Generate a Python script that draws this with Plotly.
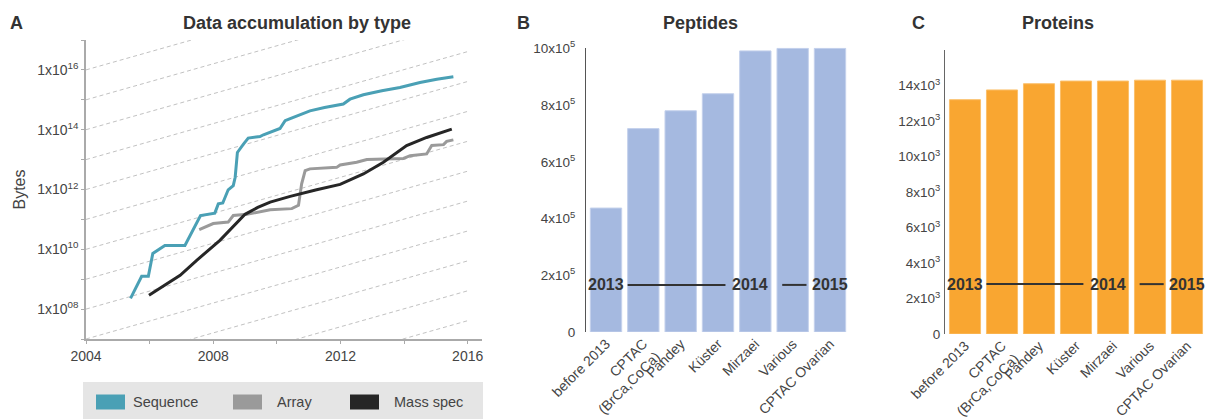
import numpy as np
import plotly.graph_objects as go

W, H = 1207, 419
FONT = "Liberation Sans, Arial, Helvetica, sans-serif"
TXT = "#444444"
DARK = "#333333"

# ---------------- Panel A data (log10 of bytes) ----------------
seq_year = [2005.40, 2005.75, 2005.96, 2006.10, 2006.48, 2007.11, 2007.60, 2008.05,
            2008.16, 2008.30, 2008.47, 2008.63, 2008.69, 2008.76, 2008.95, 2009.10,
            2009.47, 2009.58, 2010.10, 2010.26, 2010.42, 2011.04, 2011.50, 2012.09,
            2012.30, 2012.72, 2013.30, 2013.87, 2014.50, 2015.03, 2015.55]
seq_log10 = [8.36, 9.10, 9.10, 9.86, 10.13, 10.13, 11.13, 11.21,
             11.52, 11.55, 11.99, 12.13, 12.41, 13.24, 13.52, 13.72,
             13.77, 13.83, 14.04, 14.30, 14.37, 14.63, 14.74, 14.86,
             15.02, 15.17, 15.30, 15.41, 15.58, 15.69, 15.77]

arr_year = [2007.56, 2008.00, 2008.47, 2008.63, 2009.06, 2009.79, 2010.47, 2010.68,
            2010.78, 2010.89, 2011.04, 2011.88, 2011.99, 2012.51, 2012.83, 2013.98,
            2014.19, 2014.71, 2014.87, 2015.24, 2015.34, 2015.55]
arr_log10 = [10.66, 10.86, 10.91, 11.13, 11.17, 11.32, 11.36, 11.47,
             12.19, 12.63, 12.69, 12.74, 12.82, 12.91, 13.00, 13.04,
             13.13, 13.19, 13.47, 13.50, 13.61, 13.66]

ms_year = [2005.98, 2006.96, 2007.48, 2008.21, 2009.00, 2009.40, 2009.79, 2010.42,
           2011.25, 2011.99, 2012.72, 2013.35, 2014.08, 2014.71, 2015.50]
ms_log10 = [8.46, 9.13, 9.63, 10.30, 11.17, 11.40, 11.58, 11.77,
            11.99, 12.17, 12.52, 12.91, 13.47, 13.74, 14.02]

series_names = ["Sequence", "Array", "Mass spec"]
series_colors = ["#4aa0b5", "#9a9a9a", "#262626"]

# reference guide lines: doubling every year, one per decade offset
guide_start_exp = list(range(4, 17))
guide_years = [2004, 2016]

a_ylabel_exp = [8, 10, 12, 14, 16]
a_yminor_exp = list(range(7, 18))
a_xlabel_years = [2004, 2008, 2012, 2016]
a_xminor_years = list(range(2004, 2017, 2))

# ---------------- Panels B / C data ----------------
studies = ["before 2013", "CPTAC<br>(BrCa,CoCa)", "Pandey", "Küster",
           "Mirzaei", "Various", "CPTAC Ovarian"]
peptides = [437000, 717000, 780000, 840000, 991000, 1000000, 1000000]
proteins = [13200, 13750, 14100, 14250, 14250, 14300, 14300]

pep_ticks = [0, 200000, 400000, 600000, 800000, 1000000]
pep_ticktext = ["0", "2x10<sup>5</sup>", "4x10<sup>5</sup>", "6x10<sup>5</sup>",
                "8x10<sup>5</sup>", "10x10<sup>5</sup>"]
prot_ticks = [0, 2000, 4000, 6000, 8000, 10000, 12000, 14000]
prot_ticktext = ["0", "2x10<sup>3</sup>", "4x10<sup>3</sup>", "6x10<sup>3</sup>",
                 "8x10<sup>3</sup>", "10x10<sup>3</sup>", "12x10<sup>3</sup>",
                 "14x10<sup>3</sup>"]

year_labels = ["2013", "2014", "2015"]
year_label_pos = [0.0, 3.86, 6.0]
year_spans = [(0.58, 3.2), (4.72, 5.37)]


def px(x):
    return x / W


def py(y):
    return 1 - y / H


fig = go.Figure()

# guide lines
for k in guide_start_exp:
    fig.add_trace(go.Scatter(
        x=guide_years,
        y=[10.0 ** k * 2.0 ** (yr - guide_years[0]) for yr in guide_years],
        mode="lines", line=dict(color="#c2c2c2", width=1, dash="4px,3px"),
        hoverinfo="skip", showlegend=False, xaxis="x", yaxis="y"))

# data series
for name, xs, ls, col in zip(series_names,
                             [seq_year, arr_year, ms_year],
                             [seq_log10, arr_log10, ms_log10],
                             series_colors):
    fig.add_trace(go.Scatter(
        x=xs, y=np.power(10.0, ls), mode="lines", name=name,
        line=dict(color=col, width=3), showlegend=False,
        xaxis="x", yaxis="y"))

fig.add_trace(go.Bar(x=studies, y=peptides,
                     marker=dict(color="#a5b9e0", line=dict(width=1, color="#c4d1ec")),
                     showlegend=False, xaxis="x2", yaxis="y2"))
fig.add_trace(go.Bar(x=studies, y=proteins,
                     marker=dict(color="#f9a631", line=dict(width=1, color="#fbc06c")),
                     showlegend=False, xaxis="x3", yaxis="y3"))

axis_font = dict(family=FONT, size=14, color=TXT)
bar_font = dict(family=FONT, size=13.5, color=TXT)
bar_xfont = dict(family=FONT, size=14, color=TXT)

layout = dict(
    template="none",
    width=W, height=H, margin=dict(l=0, r=0, t=0, b=0, pad=0),
    paper_bgcolor="white", plot_bgcolor="white",
    font=dict(family=FONT, color=TXT),
    bargap=0.16, showlegend=False,
    xaxis=dict(domain=[px(86), px(482)], range=[2004, 2016.45], automargin=False,
               tickvals=a_xlabel_years, ticktext=[str(y) for y in a_xlabel_years],
               ticks="outside", ticklen=3, tickcolor="#aaaaaa",
               minor=dict(tickvals=a_xminor_years, ticks="outside", ticklen=3,
                          tickcolor="#aaaaaa", showgrid=False),
               showline=True, linecolor="#aaaaaa", linewidth=1.5,
               showgrid=False, zeroline=False, tickfont=axis_font, anchor="y"),
    yaxis=dict(domain=[py(339), py(40)], type="log", range=[7, 17], automargin=False,
               tickvals=[10.0 ** e for e in a_ylabel_exp],
               ticktext=["1x10<sup>%02d</sup>" % e for e in a_ylabel_exp],
               ticks="outside", ticklen=3, tickcolor="#aaaaaa",
               minor=dict(tickvals=[10.0 ** e for e in a_yminor_exp], ticks="outside",
                          ticklen=3, tickcolor="#aaaaaa", showgrid=False),
               showline=True, linecolor="#aaaaaa", linewidth=1.5,
               showgrid=False, zeroline=False, tickfont=axis_font, anchor="x",
               title=dict(text="Bytes", font=dict(family=FONT, size=16, color=TXT),
                          standoff=8)),
    xaxis2=dict(domain=[px(586), px(850)], anchor="y2", tickangle=-45, automargin=False,
                showline=False, showgrid=False, zeroline=False, ticks="",
                tickfont=bar_xfont),
    yaxis2=dict(domain=[py(332), py(47.5)], anchor="x2", range=[0, 1003000], automargin=False,
                tickvals=pep_ticks, ticktext=pep_ticktext,
                showline=True, linecolor="#555555", linewidth=1,
                showgrid=False, zeroline=False, ticks="", ticklabelstandoff=7,
                tickfont=bar_font),
    xaxis3=dict(domain=[px(945), 1.0], anchor="y3", tickangle=-45, automargin=False,
                showline=False, showgrid=False, zeroline=False, ticks="",
                tickfont=bar_xfont),
    yaxis3=dict(domain=[py(334), py(50)], anchor="x3", range=[0, 16000], automargin=False,
                tickvals=prot_ticks, ticktext=prot_ticktext,
                showline=True, linecolor="#666666", linewidth=1,
                showgrid=False, zeroline=False, ticks="", ticklabelstandoff=1,
                tickfont=bar_font),
)

annotations = []
shapes = []

# panel letters and titles
for letter, lx in [("A", 16), ("B", 523), ("C", 918)]:
    annotations.append(dict(text="<b>%s</b>" % letter, x=px(lx), y=py(23), xref="paper", yref="paper",
                            showarrow=False, xanchor="center", yanchor="middle",
                            font=dict(family=FONT, size=18, color=DARK)))
for title, tx in [("Data accumulation by type", 297), ("Peptides", 700), ("Proteins", 1058)]:
    annotations.append(dict(text="<b>%s</b>" % title, x=px(tx), y=py(23), xref="paper", yref="paper",
                            showarrow=False, xanchor="center", yanchor="middle",
                            font=dict(family=FONT, size=18, color=DARK)))

# year group markers on bar panels
for xa, ya, yval in [("x2", "y2", 166000), ("x3", "y3", 2810)]:
    for lab, pos in zip(year_labels, year_label_pos):
        annotations.append(dict(text="<b>%s</b>" % lab, x=pos, y=yval, xref=xa, yref=ya,
                                showarrow=False, xanchor="center", yanchor="middle",
                                font=dict(family=FONT, size=16, color=DARK)))
    for a, b in year_spans:
        shapes.append(dict(type="line", xref=xa, yref=ya, x0=a, x1=b, y0=yval, y1=yval,
                           line=dict(color=DARK, width=2)))

# legend box for panel A
shapes.append(dict(type="rect", xref="paper", yref="paper", x0=px(83), x1=px(483),
                   y0=0, y1=py(382), fillcolor="#e5e5e5", line=dict(width=0), layer="below"))
legend_x = [96, 233, 350]
for name, col, lx in zip(series_names, series_colors, legend_x):
    shapes.append(dict(type="rect", xref="paper", yref="paper", x0=px(lx), x1=px(lx + 29),
                       y0=py(409.5), y1=py(394.5), fillcolor=col, line=dict(width=0)))
    annotations.append(dict(text=name, x=px(lx + 35 + (7 if name != "Sequence" else 0)), y=py(402),
                            xref="paper", yref="paper", showarrow=False,
                            xanchor="left", yanchor="middle",
                            font=dict(family=FONT, size=14.5, color=TXT)))

layout["annotations"] = annotations
layout["shapes"] = shapes
fig.update_layout(**layout)

fig.write_html("out.html")
